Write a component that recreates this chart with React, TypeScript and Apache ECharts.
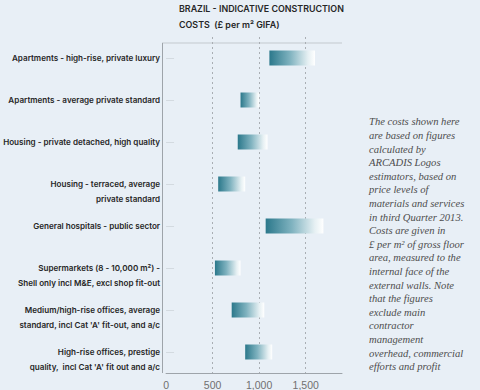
import React, { useEffect, useRef } from "react";
import * as echarts from "echarts";

const titleLines = ["BRAZIL - INDICATIVE CONSTRUCTION", "COSTS  (£ per m² GIFA)"];

const categories = [
  "Apartments - high-rise, private luxury",
  "Apartments - average private standard",
  "Housing - private detached, high quality",
  "Housing - terraced, average\nprivate standard",
  "General hospitals - public sector",
  "Supermarkets (8 - 10,000 m²) -\nShell only incl M&E, excl shop fit-out",
  "Medium/high-rise offices, average\nstandard, incl Cat 'A' fit-out, and a/c",
  "High-rise offices, prestige\nquality,  incl Cat 'A' fit out and a/c",
];

const lowValues = [1110, 800, 770, 560, 1070, 525, 705, 850];
const highValues = [1600, 1000, 1090, 850, 1690, 800, 1055, 1140];

const xTicks = [0, 500, 1000, 1500];

const noteLines = [
  "The costs shown here",
  "are based on figures",
  "calculated by",
  "ARCADIS Logos",
  "estimators, based on",
  "price levels of",
  "materials and services",
  "in third Quarter 2013.",
  "Costs are given in",
  "£ per m² of gross floor",
  "area, measured to the",
  "internal face of the",
  "external walls. Note",
  "that the figures",
  "exclude main",
  "contractor",
  "management",
  "overhead, commercial",
  "efforts and profit",
];

export default function App() {
  const ref = useRef<HTMLDivElement>(null);
  useEffect(() => {
    if (!ref.current) return;
    const chart = echarts.init(ref.current, undefined, { renderer: "svg" });
    const rangeValues = highValues.map((h, i) => h - lowValues[i]);
    const bg = "#e8eff6";
    const gridCol = "#a9aeb3";
    chart.setOption({
      animation: false,
      backgroundColor: bg,
      grid: { left: 162, right: 138, top: 37, bottom: 17 },
      xAxis: {
        type: "value",
        min: 0,
        max: 1890,
        interval: 500,
        axisLine: { show: true, lineStyle: { color: "#9ea4aa", width: 1 } },
        axisTick: { show: false },
        axisLabel: {
          showMaxLabel: false,
          color: "#707070",
          fontSize: 10.5,
          fontFamily: "Liberation Sans",
          margin: 6,
          formatter: (v: number) => (xTicks.includes(v) ? v.toLocaleString("en-US") : ""),
        },
        splitLine: {
          show: true,
          lineStyle: {
            color: ["transparent", gridCol, gridCol, gridCol, "transparent"],
            type: [2, 3],
            width: 1,
          },
        },
      },
      yAxis: {
        type: "category",
        inverse: true,
        data: categories,
        axisLine: { show: false },
        axisTick: { show: true, inside: true, length: 8, alignWithLabel: true, lineStyle: { color: "#d3dae0" } },
        axisLabel: {
          interval: 0,
          hideOverlap: false,
          color: "#262626",
          fontSize: 8.1,
          fontWeight: 600,
          fontFamily: "Inter",
          lineHeight: 15,
          margin: 6,
          formatter: (v: string) => (v.includes("\n") ? "\n" + v : v),
        },
        splitLine: { show: false },
      },
      graphic: [
        {
          type: "text",
          left: 179,
          top: 0,
          style: {
            text: titleLines.join("\n"),
            fill: "#262626",
            font: "600 8.9px Inter",
            lineHeight: 16.5,
          },
        },
        {
          type: "line",
          shape: { x1: 162, y1: 43, x2: 342, y2: 43 },
          style: { stroke: "#c3c9ce", lineWidth: 1 },
        },
        {
          type: "line",
          shape: { x1: 162.5, y1: 43, x2: 162.5, y2: 373 },
          style: { stroke: "#9ea4aa", lineWidth: 1 },
        },
        {
          type: "text",
          left: 369,
          top: 115,
          style: {
            text: noteLines.join("\n"),
            fill: "#4d4d4d",
            font: "italic 10.6px 'Liberation Serif'",
            lineHeight: 13.6,
          },
        },
      ],
      series: [
        {
          type: "bar",
          stack: "r",
          data: lowValues,
          barWidth: 15,
          itemStyle: { color: "transparent" },
          silent: true,
        },
        {
          type: "bar",
          stack: "r",
          data: rangeValues,
          barWidth: 15,
          itemStyle: {
            color: new echarts.graphic.LinearGradient(0, 0, 1, 0, [
              { offset: 0, color: "#2b788b" },
              { offset: 0.45, color: "#7fb2bf" },
              { offset: 0.85, color: "#e6f0f3" },
              { offset: 1, color: "#ffffff" },
            ]),
          },
        },
      ],
    });
    return () => chart.dispose();
  }, []);
  return (
    <div
      ref={ref}
      style={{ position: "fixed", left: 0, top: 0, width: 480, height: 390, background: "#e8eff6" }}
    />
  );
}
